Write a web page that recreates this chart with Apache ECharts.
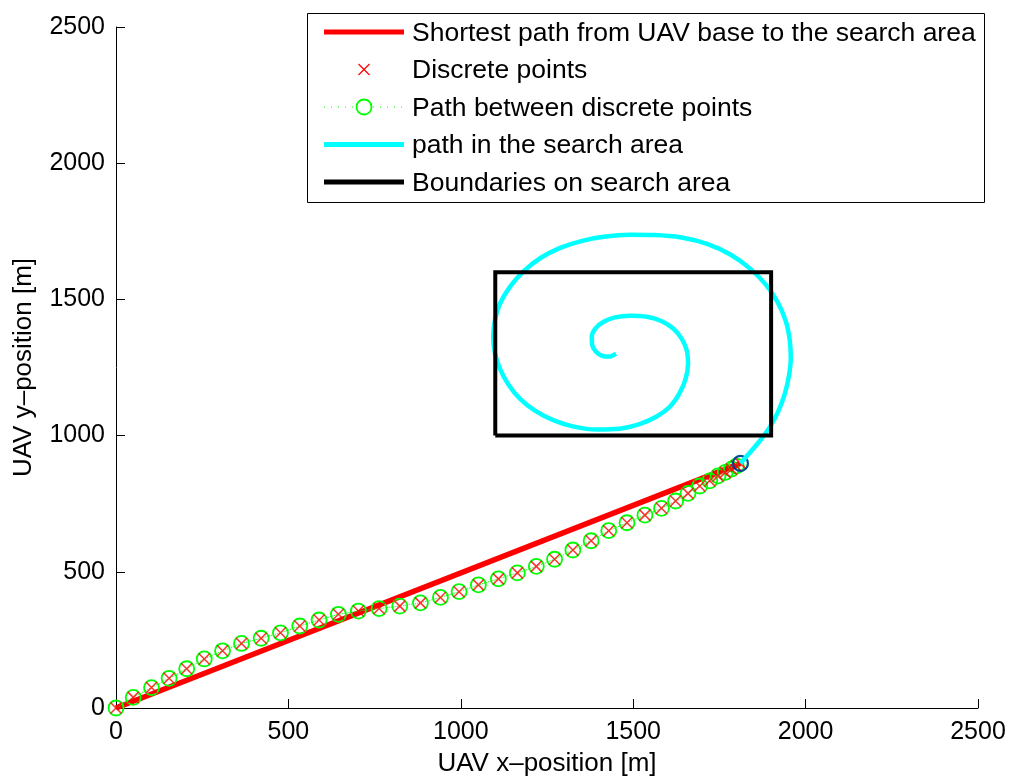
<!DOCTYPE html>
<html>
<head>
<meta charset="utf-8">
<title>UAV path</title>
<script src="https://cdn.jsdelivr.net/npm/echarts@6/dist/echarts.min.js"></script>
<style>
  html, body { margin: 0; padding: 0; background: #ffffff; overflow: hidden; }
  #chart { width: 1010px; height: 776px; }
</style>
</head>
<body>
<div id="chart"></div>
<script>
// Axis ticks (metres)
const xTickValues = [0, 500, 1000, 1500, 2000, 2500];
const yTickValues = [0, 500, 1000, 1500, 2000, 2500];

// Straight line from the UAV base to the entry point of the search area
const shortestX = [0, 1811];
const shortestY = [0, 898];

// Discrete way points flown between base and search area
const discreteX = [0, 50, 103, 154, 205, 256, 309, 364, 421, 477, 533, 589, 645, 703, 763, 823,
  883, 941, 995, 1051, 1109, 1164, 1219, 1272, 1325, 1378, 1429, 1482, 1534, 1582, 1623, 1659,
  1693, 1722, 1746, 1767, 1785, 1799, 1811];
const discreteY = [0, 39, 75, 109, 144, 180, 210, 237, 256, 276, 301, 323, 344, 356, 365, 374,
  386, 406, 427, 452, 474, 496, 520, 546, 580, 614, 651, 680, 708, 733, 760, 788,
  815, 834, 852, 865, 877, 888, 898];

// Entry point into the search area
const entryX = [1811];
const entryY = [898];

// Spiral search path
const spiralX = [1811, 1838, 1868, 1897, 1921, 1940, 1952, 1957, 1954, 1942, 1918, 1884, 1839,
  1783, 1716, 1640, 1562, 1491, 1420, 1352, 1288, 1230, 1181, 1143, 1114, 1099, 1094, 1099, 1114,
  1138, 1172, 1215, 1268, 1328, 1394, 1460, 1520, 1568, 1607, 1634, 1652, 1659, 1655, 1640, 1616,
  1583, 1540, 1492, 1447, 1413, 1390, 1380, 1381, 1392, 1410, 1430, 1450];
const spiralY = [898, 937, 982, 1033, 1090, 1155, 1222, 1285, 1351, 1422, 1492, 1555, 1613,
  1664, 1703, 1727, 1736, 1737, 1731, 1715, 1689, 1651, 1602, 1547, 1486, 1424, 1363, 1302, 1244,
  1188, 1135, 1092, 1057, 1033, 1022, 1025, 1043, 1070, 1107, 1155, 1208, 1263, 1314, 1357, 1393,
  1420, 1436, 1440, 1434, 1417, 1393, 1363, 1333, 1308, 1293, 1290, 1301];

// Search area boundary
const boundaryX = [1100, 1900, 1900, 1100, 1100];
const boundaryY = [1000, 1000, 1600, 1600, 1000];

// Legend entries
const legendLabels = [
  'Shortest path from UAV base to the search area',
  'Discrete points',
  'Path between discrete points',
  'path in the search area',
  'Boundaries on search area'
];

const FONT = '"Liberation Sans", Arial, Helvetica, sans-serif';
const zip = (xs, ys) => xs.map((x, i) => [x, ys[i]]);
const crossSymbol = 'path://M0,0L10,10M10,0L0,10';

const chart = echarts.init(document.getElementById('chart'), null, { renderer: 'canvas' });

function axisCommon(ticks, labelMargin) {
  return {
    type: 'value',
    min: ticks[0],
    max: ticks[ticks.length - 1],
    interval: ticks[1] - ticks[0],
    splitLine: { show: false },
    axisLine: { show: true, onZero: false, lineStyle: { color: '#000', width: 1 } },
    axisTick: { show: true, inside: true, length: 9, lineStyle: { color: '#000', width: 1 } },
    axisLabel: { color: '#000', fontSize: 25, fontFamily: FONT, margin: labelMargin, formatter: v => String(v) },
    nameLocation: 'middle',
    nameTextStyle: { color: '#000', fontSize: 26, fontFamily: FONT }
  };
}

// Legend drawn as a boxed key in the upper right
const legendRows = [32, 69.5, 107, 144.5, 182];
const keyX0 = 324, keyX1 = 404, keyMid = 364, textX = 412;
const legendGraphics = [
  { type: 'rect', shape: { x: 307.5, y: 13.5, width: 677, height: 189 },
    style: { fill: '#fff', stroke: '#000', lineWidth: 1 } },
  { type: 'line', shape: { x1: keyX0, y1: legendRows[0], x2: keyX1, y2: legendRows[0] },
    style: { stroke: '#ff0000', lineWidth: 5 } },
  { type: 'line', shape: { x1: keyMid - 5.5, y1: legendRows[1] - 5.5, x2: keyMid + 5.5, y2: legendRows[1] + 5.5 },
    style: { stroke: '#ff0000', lineWidth: 1.3 } },
  { type: 'line', shape: { x1: keyMid + 5.5, y1: legendRows[1] - 5.5, x2: keyMid - 5.5, y2: legendRows[1] + 5.5 },
    style: { stroke: '#ff0000', lineWidth: 1.3 } },
  { type: 'line', shape: { x1: keyX0, y1: legendRows[2], x2: keyX1, y2: legendRows[2] },
    style: { stroke: '#00ff00', lineWidth: 1, lineDash: [1, 6] } },
  { type: 'circle', shape: { cx: keyMid, cy: legendRows[2], r: 7.5 },
    style: { stroke: '#00ff00', lineWidth: 1.8, fill: '#fff' } },
  { type: 'line', shape: { x1: keyX0, y1: legendRows[3], x2: keyX1, y2: legendRows[3] },
    style: { stroke: '#00ffff', lineWidth: 5 } },
  { type: 'line', shape: { x1: keyX0, y1: legendRows[4], x2: keyX1, y2: legendRows[4] },
    style: { stroke: '#000000', lineWidth: 5 } }
].concat(legendLabels.map((t, i) => ({
  type: 'text', x: textX, y: legendRows[i] + 1.5,
  style: { text: t, fill: '#000', fontSize: 26.5, fontFamily: FONT, align: 'left', verticalAlign: 'middle' }
})));

const option = {
  animation: false,
  backgroundColor: '#ffffff',
  grid: { left: 116, right: 32, top: 27, bottom: 68, containLabel: false, outerBoundsMode: 'none' },
  xAxis: Object.assign(axisCommon(xTickValues, 12), { name: 'UAV x–position [m]', nameGap: 43 }),
  yAxis: Object.assign(axisCommon(yTickValues, 11), { name: 'UAV y–position [m]', nameGap: 79, nameRotate: 90 }),
  series: [
    {
      name: legendLabels[0], type: 'line', data: zip(shortestX, shortestY),
      symbol: 'none', lineStyle: { color: '#ff0000', width: 5.5 }, z: 2
    },
    {
      name: legendLabels[2], type: 'line', data: zip(discreteX, discreteY),
      showAllSymbol: true, symbol: 'circle', symbolSize: 15,
      itemStyle: { color: 'none', borderColor: '#00ff00', borderWidth: 1.8 },
      lineStyle: { color: '#00ff00', width: 1, type: 'dotted' }, z: 3
    },
    {
      name: legendLabels[1], type: 'scatter', data: zip(discreteX, discreteY),
      symbol: crossSymbol, symbolSize: 11,
      itemStyle: { color: 'none', borderColor: '#ff0000', borderWidth: 1.5 }, z: 4
    },
    {
      name: 'entry', type: 'scatter', data: zip(entryX, entryY),
      symbol: 'circle', symbolSize: 15,
      itemStyle: { color: 'none', borderColor: '#0022bb', borderWidth: 2.2 }, z: 5
    },
    {
      name: legendLabels[3], type: 'line', data: zip(spiralX, spiralY),
      symbol: 'none', smooth: 0.3, lineStyle: { color: '#00ffff', width: 4.5 }, z: 6
    },
    {
      name: legendLabels[4], type: 'line', data: zip(boundaryX, boundaryY),
      symbol: 'none', lineStyle: { color: '#000000', width: 4, join: 'miter' }, z: 7
    }
  ],
  graphic: { elements: legendGraphics }
};

chart.setOption(option);
</script>
</body>
</html>
